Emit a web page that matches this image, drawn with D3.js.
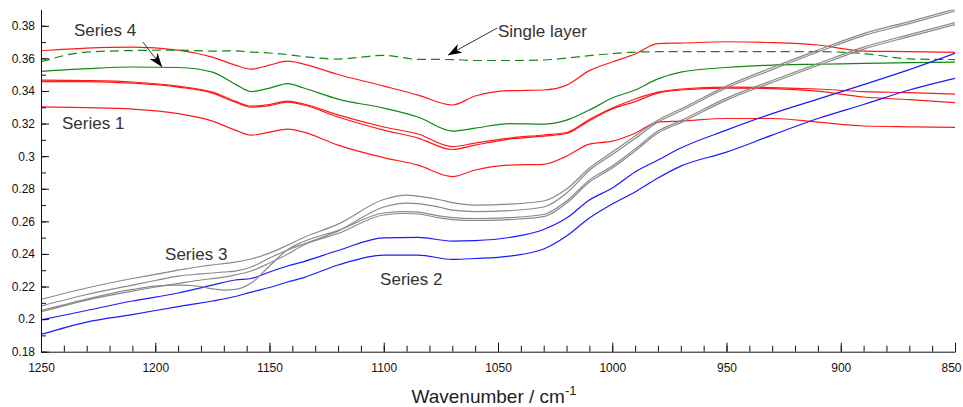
<!DOCTYPE html>
<html>
<head>
<meta charset="utf-8">
<script src="https://cdn.jsdelivr.net/npm/d3@7"></script>
<style>
  body { margin: 0; background: #fff; }
  svg { display: block; font-family: "Liberation Sans", Arial, sans-serif; }
</style>
</head>
<body>
<div id="chart"></div>
<script>
// wavenumber grids (cm-1)
let wavenumbers = [1250,1230,1210,1190,1175,1165,1158,1150,1142,1135,1120,1100,1085,1070,1060,1045,1030,1020,1010,1000,990,980,970,950,930,910,890,870,850];
let greyWavenumbers = [1250,1230,1210,1200,1190,1180,1175,1170,1165,1158,1150,1142,1135,1120,1100,1090,1085,1075,1070,1060,1045,1030,1020,1010,1000,990,980,970,950,930,910,890,870,850];

// Series 1 (red)
let series1Top = [0.3647,0.3663,0.3669,0.3651,0.3608,0.3559,0.3534,0.3559,0.3583,0.3565,0.3501,0.3430,0.3375,0.3314,0.3369,0.3402,0.3406,0.3436,0.3525,0.3578,0.3627,0.3691,0.3694,0.3702,0.3697,0.3682,0.3645,0.3642,0.3637];
let series1MidA = [0.3467,0.3464,0.3455,0.3430,0.3393,0.3338,0.3307,0.3317,0.3338,0.3320,0.3253,0.3179,0.3136,0.3059,0.3080,0.3111,0.3130,0.3145,0.3225,0.3295,0.3351,0.3393,0.3412,0.3424,0.3421,0.3412,0.3396,0.3390,0.3381];
let series1MidB = [0.3458,0.3458,0.3448,0.3424,0.3387,0.3331,0.3301,0.3310,0.3332,0.3314,0.3240,0.3160,0.3111,0.3041,0.3068,0.3105,0.3123,0.3139,0.3218,0.3289,0.3335,0.3387,0.3406,0.3418,0.3415,0.3399,0.3363,0.3347,0.3328];
let series1Low = [0.3303,0.3298,0.3289,0.3261,0.3215,0.3160,0.3129,0.3147,0.3166,0.3147,0.3068,0.2991,0.2945,0.2875,0.2915,0.2945,0.2950,0.3000,0.3074,0.3092,0.3141,0.3209,0.3215,0.3231,0.3231,0.3209,0.3185,0.3180,0.3177];

// Series 4 (green) and single layer (green dashed)
let series4 = [0.3520,0.3537,0.3547,0.3544,0.3516,0.3442,0.3396,0.3418,0.3445,0.3418,0.3350,0.3295,0.3240,0.3154,0.3172,0.3200,0.3197,0.3221,0.3283,0.3357,0.3406,0.3474,0.3516,0.3544,0.3559,0.3564,0.3569,0.3574,0.3577];
let singleLayer = [0.3579,0.3639,0.3648,0.3651,0.3645,0.3646,0.3639,0.3633,0.3623,0.3611,0.3596,0.3619,0.3594,0.3593,0.3587,0.3587,0.3590,0.3602,0.3617,0.3629,0.3639,0.3641,0.3642,0.3642,0.3641,0.3641,0.3630,0.3597,0.3593];

// Series 2 (blue)
let series2Upper = [0.1995,0.2053,0.2111,0.2160,0.2209,0.2240,0.2249,0.2289,0.2326,0.2353,0.2421,0.2498,0.2501,0.2479,0.2482,0.2501,0.2550,0.2620,0.2731,0.2804,0.2903,0.2976,0.3050,0.3160,0.3261,0.3350,0.3439,0.3531,0.3631];
let series2Lower = [0.1906,0.1982,0.2028,0.2077,0.2111,0.2139,0.2166,0.2194,0.2228,0.2255,0.2332,0.2393,0.2393,0.2366,0.2372,0.2387,0.2430,0.2510,0.2620,0.2706,0.2780,0.2866,0.2939,0.3025,0.3129,0.3231,0.3317,0.3406,0.3477];

// Series 3 (grey)
let series3A = [0.2121,0.2191,0.2249,0.2274,0.2301,0.2323,0.2332,0.2341,0.2350,0.2369,0.2405,0.2455,0.2501,0.2583,0.2734,0.2761,0.2755,0.2731,0.2715,0.2700,0.2706,0.2725,0.2798,0.2927,0.3025,0.3123,0.3221,0.3289,0.3430,0.3544,0.3651,0.3752,0.3826,0.3902];
let series3B = [0.2080,0.2151,0.2209,0.2237,0.2264,0.2277,0.2283,0.2289,0.2295,0.2320,0.2375,0.2424,0.2461,0.2540,0.2688,0.2712,0.2709,0.2685,0.2669,0.2660,0.2666,0.2688,0.2774,0.2912,0.3010,0.3108,0.3209,0.3277,0.3418,0.3531,0.3639,0.3740,0.3813,0.3890];
let series3C = [0.2052,0.2123,0.2182,0.2203,0.2209,0.2200,0.2185,0.2178,0.2182,0.2221,0.2326,0.2427,0.2476,0.2544,0.2651,0.2660,0.2657,0.2632,0.2623,0.2617,0.2623,0.2642,0.2725,0.2853,0.2939,0.3044,0.3154,0.3218,0.3356,0.3464,0.3568,0.3669,0.3746,0.3820];
let series3D = [0.2045,0.2117,0.2172,0.2197,0.2218,0.2240,0.2249,0.2258,0.2271,0.2295,0.2344,0.2399,0.2455,0.2525,0.2639,0.2648,0.2645,0.2620,0.2611,0.2605,0.2611,0.2629,0.2712,0.2841,0.2927,0.3031,0.3142,0.3206,0.3344,0.3452,0.3556,0.3657,0.3734,0.3807];

// axis ticks
let xTicks = [1250,1200,1150,1100,1050,1000,950,900,850];
let yTicks = [0.18,0.2,0.22,0.24,0.26,0.28,0.3,0.32,0.34,0.36,0.38];

// annotations, in data coordinates
let labels = [
  {text: 'Series 4', wn: 1235.6, v: 0.3737},
  {text: 'Series 1', wn: 1240.8, v: 0.3166},
  {text: 'Single layer', wn: 1050, v: 0.3731},
  {text: 'Series 3', wn: 1195.7, v: 0.2363},
  {text: 'Series 2', wn: 1101.6, v: 0.2209}
];
let arrows = [
  {from: [1205.4, 0.3700], to: [1197.0, 0.3547]},
  {from: [1050.4, 0.3786], to: [1071.9, 0.3620]}
];

let w = 963;
let h = 407;
let margin = {top: 9.5, right: 8, bottom: 55.3, left: 41};

let svg = d3.select('#chart')
  .append('svg')
  .attr('width', w)
  .attr('height', h);

let xScale = d3.scaleLinear()
  .domain([1250, 850])
  .range([margin.left, w - margin.right]);

let yScale = d3.scaleLinear()
  .domain([0.18, 0.39])
  .range([h - margin.bottom, margin.top]);

svg.append('clipPath')
  .attr('id', 'plot-clip')
  .append('rect')
  .attr('x', margin.left)
  .attr('y', margin.top)
  .attr('width', w - margin.left - margin.right)
  .attr('height', h - margin.top - margin.bottom);

let red = '#ff1a1a';
let green = '#118811';
let blue = '#1a1aff';
let grey = '#8a8a8a';

let lines = [
  {vals: series1Top, xs: wavenumbers, color: red},
  {vals: series1MidA, xs: wavenumbers, color: red},
  {vals: series1MidB, xs: wavenumbers, color: red},
  {vals: series1Low, xs: wavenumbers, color: red},
  {vals: singleLayer, xs: wavenumbers, color: green, dash: '9,5'},
  {vals: series4, xs: wavenumbers, color: green},
  {vals: series2Upper, xs: wavenumbers, color: blue},
  {vals: series2Lower, xs: wavenumbers, color: blue},
  {vals: series3A, xs: greyWavenumbers, color: grey},
  {vals: series3B, xs: greyWavenumbers, color: grey},
  {vals: series3C, xs: greyWavenumbers, color: grey},
  {vals: series3D, xs: greyWavenumbers, color: grey}
];

let plot = svg.append('g').attr('clip-path', 'url(#plot-clip)');

plot.selectAll('path')
  .data(lines)
  .enter()
  .append('path')
  .attr('d', (s) => d3.line()
      .x((d, i) => xScale(s.xs[i]))
      .y((d) => yScale(d))
      .curve(d3.curveMonotoneX)(s.vals))
  .style('fill', 'none')
  .style('stroke', (s) => s.color)
  .style('stroke-width', 1.2)
  .style('stroke-dasharray', (s) => s.dash || null);

// minor ticks
svg.append('g')
  .attr('transform', 'translate(0,' + (h - margin.bottom) + ')')
  .call(d3.axisBottom(xScale).tickValues(d3.range(1250, 849, -10)).tickSize(-6).tickSizeOuter(0).tickFormat(''))
  .call((g) => g.select('.domain').remove());

svg.append('g')
  .attr('transform', 'translate(' + margin.left + ',0)')
  .call(d3.axisLeft(yScale).tickValues(d3.range(0.18, 0.385, 0.01)).tickSize(-5).tickSizeOuter(0).tickFormat(''))
  .call((g) => g.select('.domain').remove());

// main axes
let xAxis = svg.append('g')
  .attr('transform', 'translate(0,' + (h - margin.bottom) + ')')
  .call(d3.axisBottom(xScale).tickValues(xTicks).tickSize(-9).tickSizeOuter(0).tickPadding(12).tickFormat(d3.format('d')));

// keep the last label inside the picture
xAxis.selectAll('.tick text')
  .filter((d) => d === 850)
  .attr('dx', -4);

let yAxis = svg.append('g')
  .attr('transform', 'translate(' + margin.left + ',0)')
  .call(d3.axisLeft(yScale).tickValues(yTicks).tickSize(-8).tickSizeOuter(0).tickPadding(6)
    .tickFormat((d) => String(+d.toFixed(2))));

svg.selectAll('.tick text')
  .style('font-family', '"Liberation Sans", Arial, sans-serif')
  .style('font-size', '12px')
  .style('fill', '#111');

svg.selectAll('.domain, .tick line')
  .style('stroke', '#111');

// axis title
let title = svg.append('text')
  .attr('x', 494)
  .attr('y', 403)
  .attr('text-anchor', 'middle')
  .style('font-size', '19px')
  .style('fill', '#222');
title.append('tspan').text('Wavenumber / cm');
title.append('tspan').attr('dy', -8).style('font-size', '13px').text('-1');

// annotations
svg.append('defs')
  .append('marker')
  .attr('id', 'arrow')
  .attr('viewBox', '0 0 14 10')
  .attr('refX', 14)
  .attr('refY', 5)
  .attr('markerWidth', 14)
  .attr('markerHeight', 10)
  .attr('markerUnits', 'userSpaceOnUse')
  .attr('orient', 'auto')
  .append('path')
  .attr('d', 'M0,0 L14,5 L0,10 L4,5 Z')
  .style('fill', '#000');

svg.selectAll('.arrow')
  .data(arrows)
  .enter()
  .append('line')
  .attr('class', 'arrow')
  .attr('x1', (d) => xScale(d.from[0]))
  .attr('y1', (d) => yScale(d.from[1]))
  .attr('x2', (d) => xScale(d.to[0]))
  .attr('y2', (d) => yScale(d.to[1]))
  .style('stroke', '#333')
  .style('stroke-width', 1)
  .attr('marker-end', 'url(#arrow)');

svg.selectAll('.label')
  .data(labels)
  .enter()
  .append('text')
  .attr('class', 'label')
  .attr('x', (d) => xScale(d.wn))
  .attr('y', (d) => yScale(d.v))
  .text((d) => d.text)
  .style('font-size', '17px')
  .style('fill', '#333');
</script>
</body>
</html>
